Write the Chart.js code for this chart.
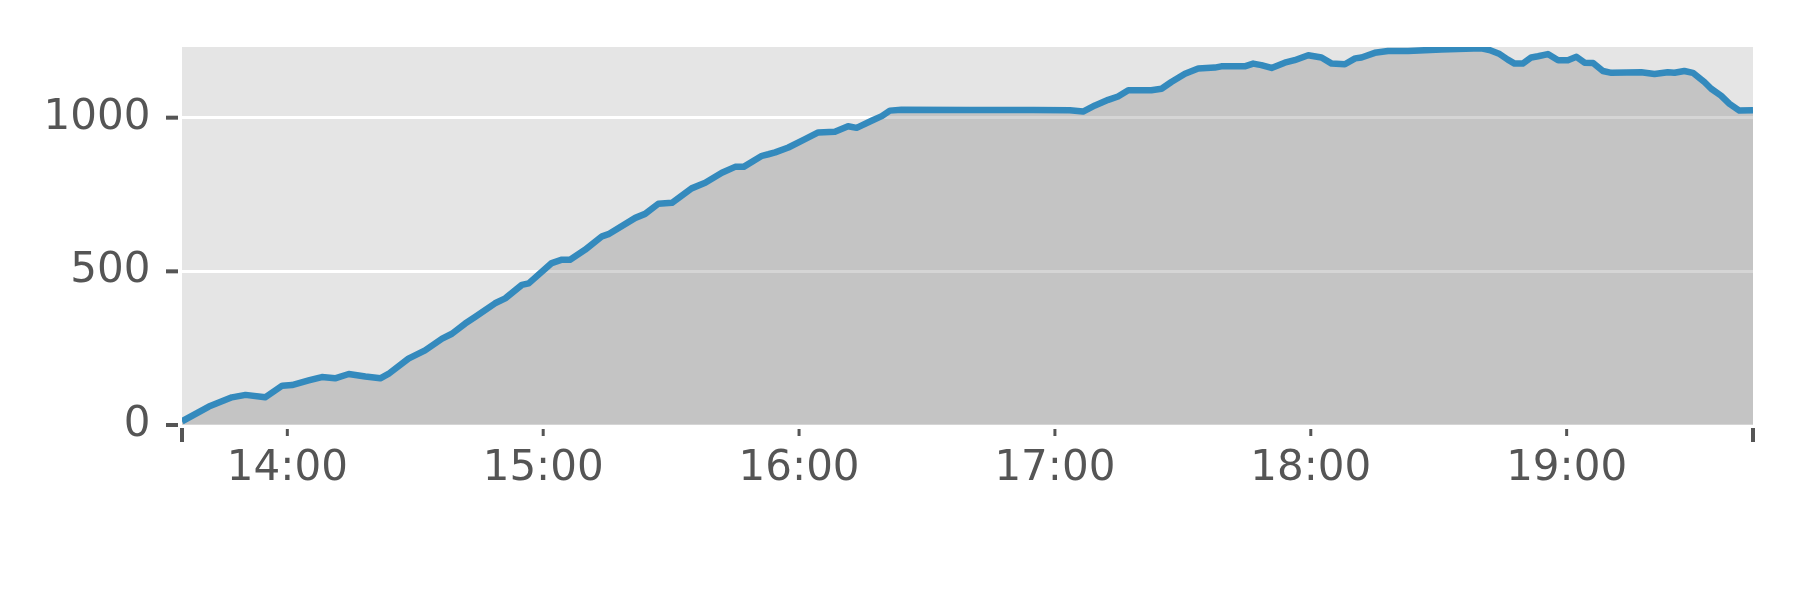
<!DOCTYPE html>
<html>
<head>
<meta charset="utf-8">
<script src="https://cdn.jsdelivr.net/npm/chart.js@4/dist/chart.umd.min.js"></script>
<style>
  html, body { margin: 0; padding: 0; background: #ffffff; }
  canvas { display: block; }
</style>
</head>
<body>
<canvas id="countChart" width="1800" height="600"></canvas>
<script>
// time of each sample, minutes after midnight
const minutes = [
  815.3, 821.6, 827.0, 830.2, 834.8, 838.8, 841.1, 845.0, 848.1, 851.2,
  854.4, 858.3, 861.8, 863.7, 868.4, 872.3, 876.3, 878.6, 881.7, 884.1,
  888.7, 891.1, 895.0, 896.6, 902.0, 904.4, 906.3, 909.8, 913.8, 915.3,
  921.6, 923.9, 927.0, 930.2, 934.8, 938.0, 941.9, 945.0, 947.0, 951.3,
  952.8, 954.4, 957.5, 961.4, 964.5, 968.4, 971.5, 973.5, 977.0, 979.4,
  981.3, 984.0, 1000.0, 1015.0, 1023.5, 1026.6, 1029.4, 1032.5, 1034.8, 1037.2,
  1042.6, 1045.0, 1047.3, 1050.5, 1053.6, 1057.5, 1059.0, 1064.5, 1066.5, 1068.4,
  1070.8, 1073.9, 1076.2, 1079.4, 1082.5, 1084.9, 1088.0, 1090.4, 1091.9, 1095.0,
  1098.1, 1102.8, 1110.6, 1120.0, 1121.9, 1124.3, 1126.2, 1127.8, 1129.7, 1131.7,
  1133.3, 1135.6, 1138.0, 1140.3, 1142.3, 1144.2, 1146.2, 1148.5, 1150.5, 1157.5,
  1160.6, 1163.7, 1165.3, 1167.6, 1169.6, 1172.3, 1173.9, 1176.2, 1178.2, 1180.5,
  1183.7
];
const counts = [
  12, 60, 90, 98, 90, 128, 130, 145, 156, 152,
  166, 158, 152, 166, 216, 243, 281, 297, 330, 352,
  396, 412, 456, 461, 527, 538, 538, 570, 614, 621,
  674, 687, 720, 723, 770, 788, 821, 840, 840, 876,
  881, 887, 903, 930, 952, 954, 972, 967, 990, 1005,
  1023, 1026, 1025, 1025, 1024, 1020, 1040, 1058, 1069, 1089,
  1089, 1094, 1116, 1143, 1160, 1163, 1167, 1167, 1176, 1171,
  1162, 1179, 1187, 1203, 1196, 1176, 1174, 1193, 1196, 1211,
  1217, 1217, 1222, 1226, 1220, 1207, 1189, 1176, 1176, 1196,
  1200, 1207, 1187, 1187, 1198, 1179, 1178, 1152, 1146, 1148,
  1142, 1148, 1146, 1152, 1146, 1116, 1094, 1072, 1045, 1023,
  1024
];

const hourTicks = [840, 900, 960, 1020, 1080, 1140];
const hourLabels = ["14:00", "15:00", "16:00", "17:00", "18:00", "19:00"];
const yTicks = [0, 500, 1000];
const yMax = 1230;

const tickColor = '#555555';

// grey panel behind the plot, ggplot style
const panelBg = {
  id: 'panelBg',
  beforeDraw(chart) {
    const { ctx, chartArea: a } = chart;
    ctx.save();
    ctx.fillStyle = '#e5e5e5';
    ctx.fillRect(a.left, a.top, a.right - a.left, a.bottom - a.top);
    ctx.restore();
  }
};

// outward tick marks, drawn a little away from the panel edge
const tickMarks = {
  id: 'tickMarks',
  afterDraw(chart) {
    const { ctx, chartArea: a, scales } = chart;
    ctx.save();
    ctx.strokeStyle = tickColor;
    ctx.lineCap = 'butt';

    ctx.lineWidth = 4;
    yTicks.forEach(v => {
      const py = scales.y.getPixelForValue(v);
      ctx.beginPath();
      ctx.moveTo(a.left - 16, py);
      ctx.lineTo(a.left - 4, py);
      ctx.stroke();
    });

    ctx.lineWidth = 3;
    hourTicks.forEach(v => {
      const px = scales.x.getPixelForValue(v);
      ctx.beginPath();
      ctx.moveTo(px, a.bottom + 4);
      ctx.lineTo(px, a.bottom + 11);
      ctx.stroke();
    });

    ctx.lineWidth = 4;
    [scales.x.min, scales.x.max].forEach(v => {
      const px = scales.x.getPixelForValue(v);
      ctx.beginPath();
      ctx.moveTo(px, a.bottom + 3);
      ctx.lineTo(px, a.bottom + 17);
      ctx.stroke();
    });
    ctx.restore();
  }
};

const points = minutes.map((m, i) => ({ x: m, y: counts[i] }));

new Chart(document.getElementById('countChart').getContext('2d'), {
  type: 'line',
  data: {
    datasets: [{
      data: points,
      borderColor: '#348abd',
      borderWidth: 6.5,
      borderJoinStyle: 'round',
      backgroundColor: 'rgba(134, 134, 134, 0.35)',
      fill: 'origin',
      pointRadius: 0,
      tension: 0,
      clip: 0
    }]
  },
  options: {
    responsive: false,
    animation: false,
    devicePixelRatio: 1,
    layout: { padding: { left: 0, right: 47, top: 47, bottom: 0 } },
    plugins: {
      legend: { display: false },
      tooltip: { enabled: false }
    },
    scales: {
      x: {
        type: 'linear',
        min: minutes[0],
        max: minutes[minutes.length - 1],
        border: { display: false },
        grid: { drawOnChartArea: false, drawTicks: false },
        afterBuildTicks: scale => {
          scale.ticks = hourTicks.map(v => ({ value: v }));
        },
        afterFit: scale => {
          scale.height = 175;
          scale.paddingLeft = 0;
          scale.paddingRight = 0;
        },
        ticks: {
          autoSkip: false,
          maxRotation: 0,
          padding: 19,
          color: tickColor,
          font: { family: 'DejaVu Sans', size: 42 },
          callback: value => hourLabels[hourTicks.indexOf(value)]
        }
      },
      y: {
        min: 0,
        max: yMax,
        border: { display: false },
        grid: { color: '#ffffff', lineWidth: 3, drawTicks: false },
        afterBuildTicks: scale => {
          scale.ticks = yTicks.map(v => ({ value: v }));
        },
        afterFit: scale => {
          scale.width = 182;
          scale.paddingTop = 0;
          scale.paddingBottom = 0;
        },
        ticks: {
          padding: 31.5,
          color: tickColor,
          font: { family: 'DejaVu Sans', size: 42 },
          callback: value => String(value)
        }
      }
    }
  },
  plugins: [panelBg, tickMarks]
});
</script>
</body>
</html>
